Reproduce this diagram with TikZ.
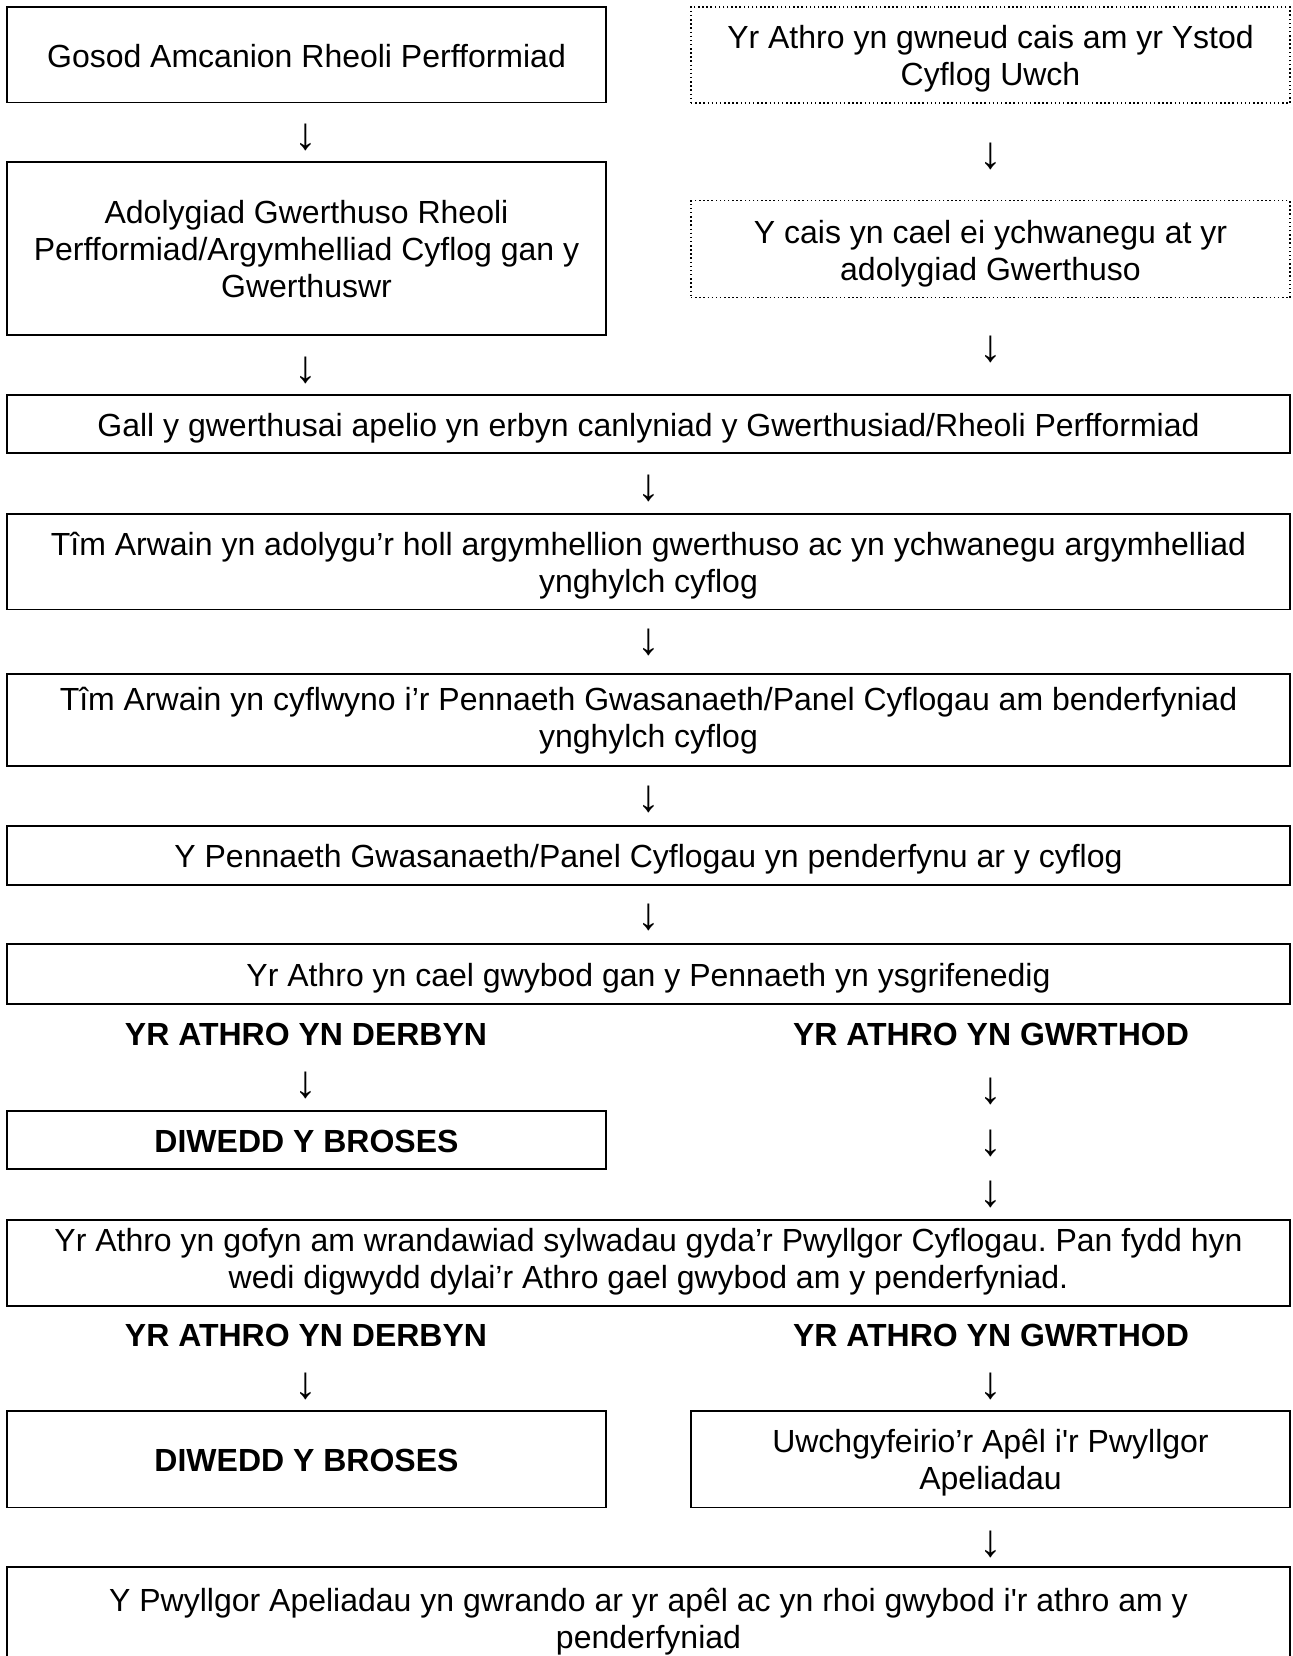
\documentclass[tikz,border=0pt]{standalone}
\usepackage{fontspec}
\setmainfont{Liberation Sans}[Ligatures=TeXOff]
\usetikzlibrary{positioning}

\tikzset{
  box/.style={draw, line width=0.55pt, align=flush center, inner sep=0pt,
    font=\fontsize{12}{13.9}\selectfont,
    execute at begin node={\rule{0pt}{11.8pt}},
    execute at end node={\rule[-2.5pt]{0pt}{0pt}}},
  wide/.style={box, minimum width=1283*0.375pt, text width=1270*0.375pt},
  half/.style={box, minimum width=599*0.375pt, text width=590*0.375pt},
  request/.style={half, densely dotted, line width=0.4pt},
  tall/.style={minimum height=#1*0.375pt},
  lift/.style={execute at end node={\rule[-#1]{0pt}{0pt}}},
  choice/.style={font=\fontsize{12}{13.9}\selectfont\bfseries},
  down/.style={font=\fontsize{17}{17}\selectfont, inner sep=0pt},
}

\begin{document}
\begin{tikzpicture}[x=0.375pt, y=-0.375pt]
    \useasboundingbox (0,0) rectangle (1292,1656);

    % top: two columns
    \node[half, tall=95.5] (gosod) at (306.5,54.75) {Gosod Amcanion Rheoli Perfformiad};
    \node[request, tall=96] (cais) at (990.5,55) {Yr Athro yn gwneud cais am yr Ystod\\ Cyflog Uwch};
    \node[down] (d1) at (306,137) {↓};
    \node[down] (d2) at (991,156) {↓};
    \node[half, tall=173] (adolygiad) at (306.5,248.5) {Adolygiad Gwerthuso Rheoli\\ Perfformiad/Argymhelliad Cyflog gan y\\ Gwerthuswr};
    \node[request, tall=97] (ychwanegu) at (990.5,249.4) {Y cais yn cael ei ychwanegu at yr\\ adolygiad Gwerthuso};
    \node[down] (d3) at (306,370) {↓};
    \node[down] (d4) at (991,349) {↓};

    % main column
    \node[wide, tall=58] (apelio) at (648.5,424) {Gall y gwerthusai apelio yn erbyn canlyniad y Gwerthusiad/Rheoli Perfformiad};
    \node[down] (d5) at (648.5,488) {↓};
    \node[wide, tall=95.5] (arwain) at (648.5,561.75) {Tîm Arwain yn adolygu’r holl argymhellion gwerthuso ac yn ychwanegu argymhelliad\\ ynghylch cyflog};
    \node[down] (d6) at (648.5,642) {↓};
    \node[wide, tall=92, lift=4.9pt] (cyflwyno) at (648.5,720) {Tîm Arwain yn cyflwyno i’r Pennaeth Gwasanaeth/Panel Cyflogau am benderfyniad\\ ynghylch cyflog};
    \node[down] (d7) at (648.5,799) {↓};
    \node[wide, tall=59] (pennaeth) at (648.5,855.5) {Y Pennaeth Gwasanaeth/Panel Cyflogau yn penderfynu ar y cyflog};
    \node[down] (d8) at (648.5,917) {↓};
    \node[wide, tall=60] (gwybod) at (648.5,974) {Yr Athro yn cael gwybod gan y Pennaeth yn ysgrifenedig};

    % first decision
    \node[choice] (derbyn1) at (306,1034) {YR ATHRO YN DERBYN};
    \node[choice] (gwrthod1) at (991,1034) {YR ATHRO YN GWRTHOD};
    \node[down] (d9) at (306,1085) {↓};
    \node[down] (d10) at (991,1091) {↓};
    \node[down] (d11) at (991,1143) {↓};
    \node[down] (d12) at (991,1194) {↓};
    \node[half, tall=58, font=\fontsize{12}{13.9}\selectfont\bfseries] (diwedd1) at (306.5,1140) {DIWEDD Y BROSES};
    \node[wide, tall=86, lift=6.5pt] (sylwadau) at (648.5,1263) {Yr Athro yn gofyn am wrandawiad sylwadau gyda’r Pwyllgor Cyflogau.\ Pan fydd hyn\\ wedi digwydd dylai’r Athro gael gwybod am y penderfyniad.};

    % second decision
    \node[choice] (derbyn2) at (306,1335) {YR ATHRO YN DERBYN};
    \node[choice] (gwrthod2) at (991,1335) {YR ATHRO YN GWRTHOD};
    \node[down] (d13) at (306,1386) {↓};
    \node[down] (d14) at (991,1386) {↓};
    \node[half, tall=96.5, font=\fontsize{12}{13.9}\selectfont\bfseries] (diwedd2) at (306.5,1459) {DIWEDD Y BROSES};
    \node[half, tall=96.5] (uwch) at (990.5,1459) {Uwchgyfeirio’r Apêl i'r Pwyllgor\\ Apeliadau};
    \node[down] (d15) at (991,1544.5) {↓};
    \node[wide, tall=102] (apel) at (648.5,1618) {Y Pwyllgor Apeliadau yn gwrando ar yr apêl ac yn rhoi gwybod i'r athro am y\\ penderfyniad};
\end{tikzpicture}
\end{document}
